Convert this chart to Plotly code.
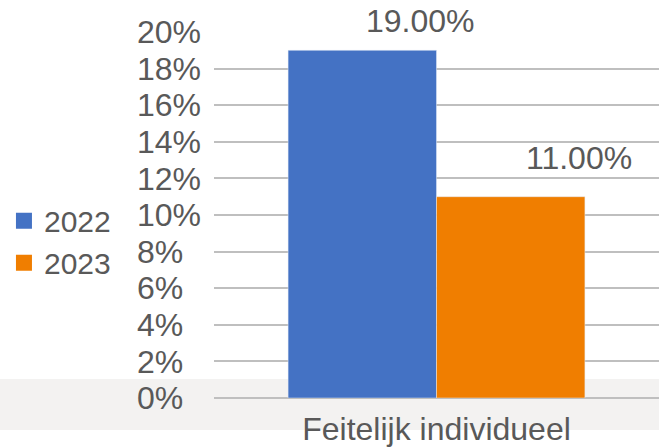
import plotly.graph_objects as go

categories = ["Feitelijk individueel"]
series_names = ["2022", "2023"]
series_values = [[19.0], [11.0]]
series_colors = ["#4472C4", "#F07E00"]
tick_vals = [0, 2, 4, 6, 8, 10, 12, 14, 16, 18, 20]
tick_labels = ["0%", "2%", "4%", "6%", "8%", "10%", "12%", "14%", "16%", "18%", "20%"]

# label offsets (style)
label_xshift = [58, 68]
label_yshift = [29, 39]

FONT = "Liberation Sans, Arial, sans-serif"
TXT = "#595959"
GRID = "#BFBFBF"
FS = 32
bargap = 0.333

fig = go.Figure()
n = len(series_names)
for i, (name, vals, col) in enumerate(zip(series_names, series_values, series_colors)):
    fig.add_trace(go.Bar(x=categories, y=vals, name=name, marker_color=col,
                         showlegend=False))
    # legend proxy
    fig.add_trace(go.Scatter(x=[None], y=[None], mode="markers", name=name,
                             marker=dict(symbol="square", size=18, color=col)))

annotations = []
for i, vals in enumerate(series_values):
    for j, v in enumerate(vals):
        xc = j + (i - (n - 1) / 2) * (1 - bargap) / n
        annotations.append(dict(x=xc, y=v, xref="x", yref="y", text=f"{v:.2f}%",
                                showarrow=False, xshift=label_xshift[i], yshift=label_yshift[i],
                                font=dict(family=FONT, size=FS, color=TXT)))

# pad single-digit labels to mimic centered alignment
padded = [t + "\u00a0\u00a0" if len(t) == 2 else t for t in tick_labels]

fig.update_layout(
    width=659, height=448,
    margin=dict(l=214, r=0, t=32, b=50, autoexpand=False),
    paper_bgcolor="white", plot_bgcolor="rgba(0,0,0,0)",
    barmode="group", bargap=bargap, bargroupgap=0,
    font=dict(family=FONT, size=FS, color=TXT),
    showlegend=True,
    legend=dict(x=-0.472, xanchor="left", y=0.427, yanchor="middle",
                font=dict(family=FONT, size=30, color=TXT), tracegroupgap=0,
                bgcolor="rgba(0,0,0,0)", itemsizing="trace", itemwidth=30),
    annotations=annotations,
    shapes=[dict(type="rect", xref="paper", yref="paper", x0=-1, x1=1.1,
                 y0=-32 / 366, y1=19 / 366, fillcolor="#F3F2F1", line_width=0,
                 layer="below")],
)
fig.update_xaxes(showgrid=False, showline=False, ticks="", automargin=False,
                 ticklabelstandoff=9,
                 tickfont=dict(family=FONT, size=FS, color=TXT))
fig.update_yaxes(range=[0, 20], tickvals=tick_vals, ticktext=padded, automargin=False,
                 showgrid=True, gridcolor=GRID, gridwidth=2,
                 zeroline=True, zerolinecolor=GRID, zerolinewidth=2,
                 showline=False, ticks="", ticklabelstandoff=12,
                 tickfont=dict(family=FONT, size=FS, color=TXT))

fig.write_html("out.html", config={"displayModeBar": False},
               post_script="document.body.style.margin='0px';document.body.style.padding='0px';")
